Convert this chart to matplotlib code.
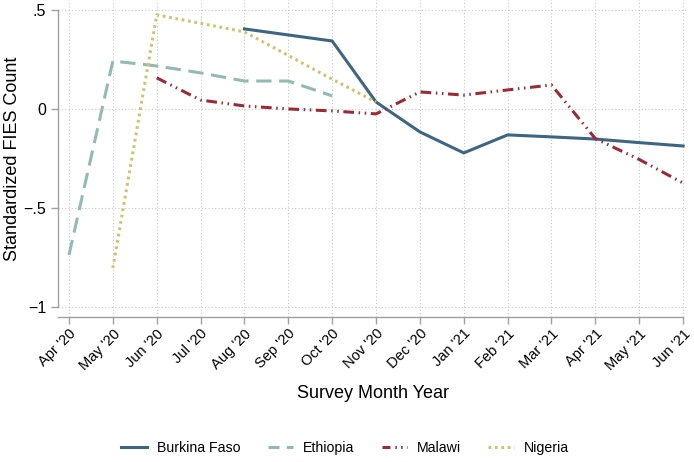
import matplotlib
matplotlib.use("Agg")
import matplotlib.pyplot as plt
from matplotlib.lines import Line2D
import numpy as np

plt.rcParams['font.family'] = ['Liberation Sans', 'DejaVu Sans']

months = ["Apr '20", "May '20", "Jun '20", "Jul '20", "Aug '20", "Sep '20", "Oct '20",
          "Nov '20", "Dec '20", "Jan '21", "Feb '21", "Mar '21", "Apr '21", "May '21", "Jun '21"]
countries = ['Burkina Faso', 'Ethiopia', 'Malawi', 'Nigeria']

# month index -> value
bf_x = [4, 6, 7, 8, 9, 10, 11, 12, 13, 14]
bf_y = [0.404, 0.343, 0.035, -0.116, -0.222, -0.131, -0.141, -0.152, -0.17, -0.187]

eth_x = [0, 1, 2, 3, 4, 5, 6]
eth_y = [-0.737, 0.242, 0.217, 0.182, 0.141, 0.141, 0.066]

mw_x = [2, 3, 4, 5, 6, 7, 8, 9, 10, 11, 12, 13, 14]
mw_y = [0.157, 0.045, 0.015, 0.0, -0.01, -0.025, 0.086, 0.07, 0.096, 0.121, -0.15, -0.255, -0.374]

ng_x = [1, 2, 4, 5, 6, 7]
ng_y = [-0.803, 0.475, 0.389, 0.27, 0.15, 0.035]

colors = ['#3e6682', '#93bab2', '#9a2b35', '#cfc46e']
dash_plot = [None, (5, 2.5), (3.5, 1.5, 0.5, 1.5, 0.5, 1.5), (0.9, 1.2)]
dash_leg = [None, (3.6, 2.4), (2.6, 1.6, 0.5, 1.4, 0.5, 1.4), (0.9, 1.2)]

fig = plt.figure(figsize=(6.94, 4.62), dpi=100)
ax = fig.add_axes([0.0836, 0.314, 0.907, 0.686])

series = [(bf_x, bf_y), (eth_x, eth_y), (mw_x, mw_y), (ng_x, ng_y)]
handles = []
for (xs, ys), c, d, dl, name in zip(series, colors, dash_plot, dash_leg, countries):
    if d is None:
        ax.plot(xs, ys, color=c, lw=2.2)
        handles.append(Line2D([], [], color=c, lw=2.2, label=name))
    else:
        ax.plot(xs, ys, color=c, lw=2.2, dashes=d)
        handles.append(Line2D([], [], color=c, lw=2.2, dashes=dl, label=name))

ax.set_xlim(-0.25, 14.1)
ax.set_ylim(-1.05, 0.55)
ax.set_xticks(np.arange(len(months)))
ax.set_xticklabels(months, rotation=45, ha='right', rotation_mode='anchor', fontsize=10.5)
ax.set_yticks([-1, -0.5, 0, 0.5])
ax.set_yticklabels(['\u22121', '\u2212.5', '0', '.5'], fontsize=11.5)

ax.grid(True, color='#c8c8c8', linestyle=(0, (1, 2)), lw=0.8)
ax.set_axisbelow(True)
for s in ['top', 'right']:
    ax.spines[s].set_visible(False)
for s in ['left', 'bottom']:
    ax.spines[s].set_color('#a0a0a0')
    ax.spines[s].set_linewidth(1.0)
ax.spines['left'].set_bounds(-1, 0.5)
ax.spines['bottom'].set_bounds(-0.25, 14)
ax.tick_params(colors='#a0a0a0', labelcolor='black', length=5, width=1)
ax.tick_params(axis='x', pad=2)

ax.set_xlabel('Survey Month Year', fontsize=13, labelpad=9)
ax.set_ylabel('Standardized FIES Count', fontsize=13, labelpad=2)

fig.legend(handles=handles, loc='center', bbox_to_anchor=(0.4975, 0.03), ncol=4, frameon=False,
           fontsize=10.2, handlelength=1.8, columnspacing=1.9, handletextpad=0.72)

fig.savefig('out.png', dpi=100)
